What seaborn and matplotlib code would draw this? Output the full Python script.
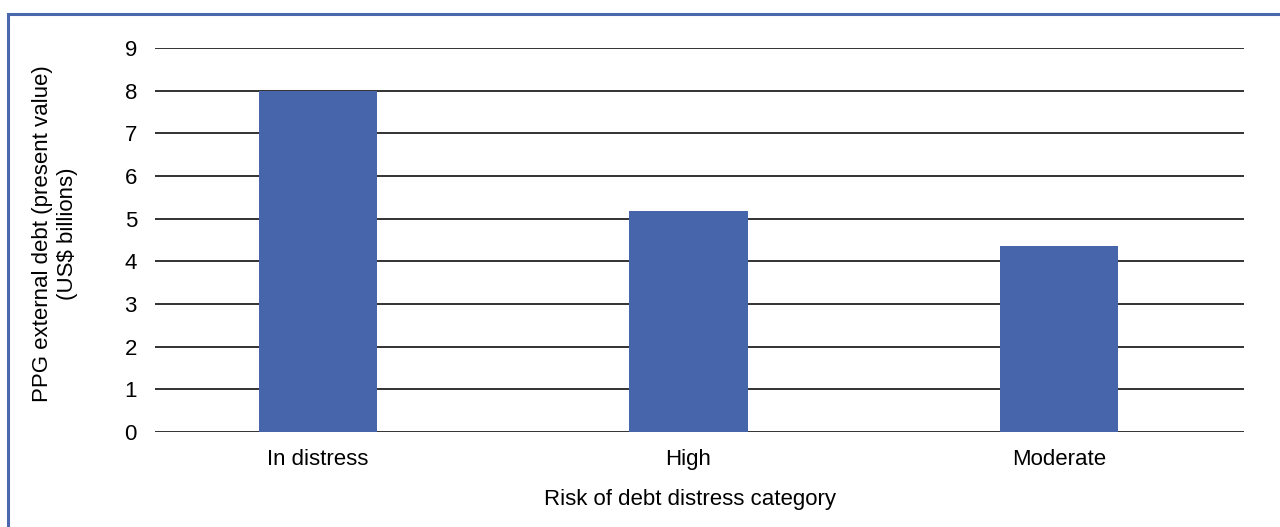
import matplotlib
matplotlib.use("Agg")
import matplotlib.pyplot as plt
import seaborn as sns
import pandas as pd
from matplotlib.patches import Rectangle

categories = ["In distress", "High", "Moderate"]
debt_values = [8.0, 5.18, 4.36]
y_ticks = [0, 1, 2, 3, 4, 5, 6, 7, 8, 9]

sns.set_style("white")
plt.rcParams['font.family'] = ['Liberation Sans', 'DejaVu Sans']

df = pd.DataFrame({"category": categories, "debt": debt_values})

fig = plt.figure(figsize=(12.8, 5.27), dpi=100)
ax = fig.add_axes([155 / 1280, 1 - 432 / 527, (1244 - 155) / 1280, (432 - 48) / 527])

sns.barplot(data=df, x="category", y="debt", color="#4765AA", width=0.32,
            saturation=1, linewidth=0, ax=ax, zorder=3)

ax.set_ylim(0, 9)
ax.set_xlim(-0.44, 2.5)
ax.set_yticks(y_ticks)
for t in y_ticks:
    ax.axhline(t, color="#222222", lw=1.3, zorder=2)

ax.tick_params(axis="both", length=0, labelsize=16, colors="black")
ax.tick_params(axis="y", pad=13)
ax.tick_params(axis="x", pad=12)
for s in ax.spines.values():
    s.set_visible(False)

ax.set_xlabel("Risk of debt distress category", fontsize=16, va="center",
              color="black")
ax.xaxis.set_label_coords(0.491, -0.176)
ax.set_ylabel("PPG external debt (present value)\n(US$ billions)", fontsize=16,
              linespacing=1.2, va="center", color="black")
ax.yaxis.set_label_coords(-0.0918, 0.516)

# outer frame of the figure
fig.patches.append(Rectangle((8 / 1280, -0.1), 1.2, 1 - 14 / 527 + 0.1,
                             transform=fig.transFigure, fill=False,
                             edgecolor="#4A68AE", lw=2.2, zorder=0))

fig.savefig("out.png", dpi=100)
